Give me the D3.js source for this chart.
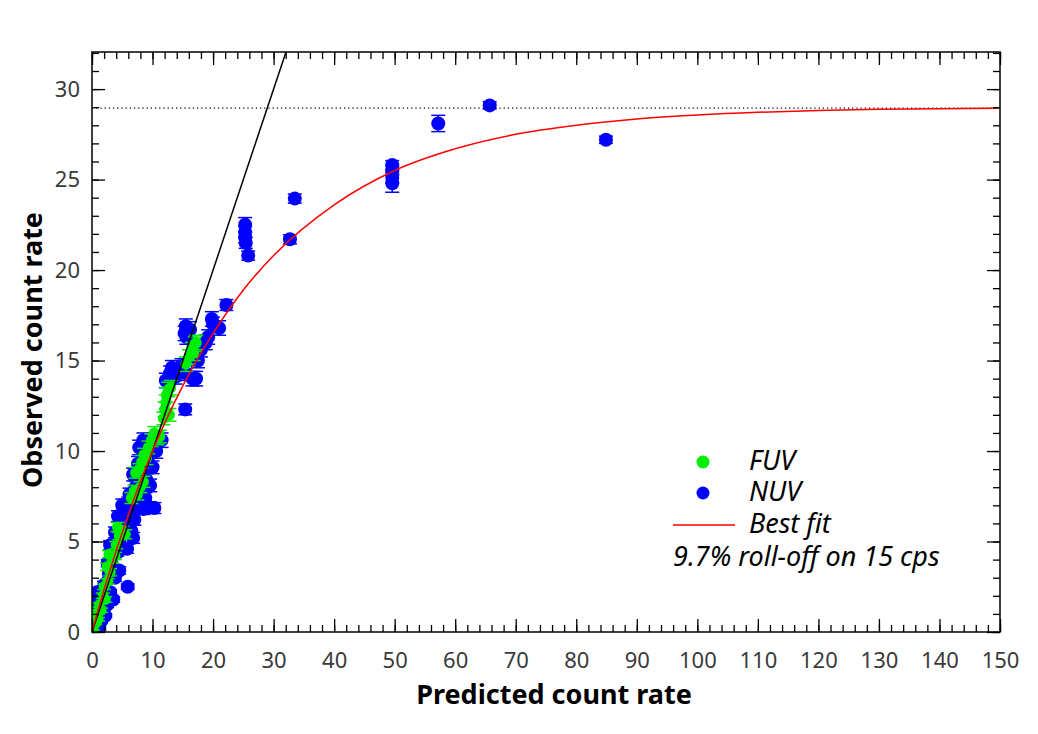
<!DOCTYPE html>
<html>
<head>
<meta charset="utf-8">
<script src="https://d3js.org/d3.v7.min.js"></script>
<style>
  body { margin: 0; background: #fff; }
  .tick text { font-family: "Noto Sans", sans-serif; font-size: 22px; fill: #3a3a3a; }
  .title { font-family: "Noto Sans", sans-serif; font-size: 27px; font-weight: bold; fill: #000; }
  .leg { font-family: "Noto Sans", sans-serif; font-size: 27px; font-style: italic; fill: #000; }
</style>
</head>
<body>
<script>
// NUV (blue) points: predicted, observed, error
var nuvX = [0.3,0.5,0.4,0.8,1.0,1.5,1.8,2.0,2.5,2.8,3.0,3.5,3.2,2.6,3.8,4.2,4.5,5.9,1.2,2.2,
            3.0,3.8,4.5,5.2,5.8,6.5,7.0,4.3,5.0,6.0,7.5,8.5,9.5,10.3,6.2,7.2,8.8,9.6,5.5,6.8,
            6.8,7.6,8.4,9.2,10.0,7.8,8.5,9.8,10.6,11.5,8.0,9.0,
            12.9,12.2,13.8,14.8,15.5,16.6,17.2,15.4,17.5,18.0,18.8,19.2,15.3,15.5,15.6,16.2,19.8,20.0,21.0,22.2,13.2,
            25.3,25.3,25.3,25.4,25.8,32.7,33.5,49.6,49.6,49.6,49.6,57.2,65.7,84.9];
var nuvY = [0.3,0.8,1.5,2.2,1.2,0.6,1.8,2.6,1.5,3.2,2.2,1.8,4.0,3.8,3.0,4.4,3.4,2.5,0.2,0.9,
            4.8,5.5,5.0,5.9,4.6,5.6,6.2,6.4,7.0,7.1,6.9,6.8,6.9,6.85,7.6,8.0,7.4,8.1,6.6,5.2,
            8.7,9.3,8.8,9.5,9.1,10.2,10.6,10.3,10.0,10.6,7.8,8.4,
            14.3,13.9,14.1,14.7,14.3,14.0,14.0,12.3,15.0,15.6,16.0,16.3,16.5,16.9,16.3,16.7,17.3,17.0,16.8,18.07,14.6,
            22.5,22.1,21.8,21.5,20.8,21.7,23.95,25.8,25.5,25.1,24.8,28.1,29.1,27.2];
var nuvErr = [0.1,0.1,0.15,0.15,0.1,0.1,0.15,0.2,0.15,0.2,0.15,0.15,0.2,0.2,0.2,0.2,0.2,0.15,0.1,0.1,
              0.25,0.3,0.25,0.3,0.25,0.3,0.3,0.3,0.35,0.35,0.3,0.3,0.3,0.3,0.35,0.35,0.3,0.35,0.3,0.3,
              0.35,0.4,0.35,0.4,0.35,0.4,0.4,0.4,0.4,0.4,0.35,0.35,
              0.4,0.4,0.4,0.4,0.4,0.4,0.4,0.3,0.4,0.4,0.4,0.4,0.4,0.4,0.4,0.45,0.4,0.4,0.4,0.3,0.4,
              0.4,0.3,0.3,0.3,0.25,0.25,0.25,0.25,0.25,0.3,0.5,0.45,0.2,0.2];

// FUV (green) points
var fuvX = [0.2,0.5,0.6,1.0,1.2,1.5,1.8,2.2,2.0,2.6,3.0,2.5,3.3,2.8,3.8,
            4.0,4.5,5.0,5.5,4.2,
            6.5,7.0,7.5,8.0,8.5,7.2,7.8,8.2,8.6,9.0,9.3,9.8,10.3,10.8,11.2,
            11.8,12.0,12.2,12.3,12.6,13.0,12.8,
            15.5,16.0,16.5,17.0,16.8,17.2];
var fuvY = [0.2,0.5,1.0,0.7,1.5,1.2,2.0,1.8,2.5,2.8,3.3,3.6,4.0,4.3,4.2,
            4.8,5.3,5.6,5.4,5.8,
            7.4,7.8,7.6,8.0,8.3,8.8,9.0,9.4,9.8,9.6,10.2,10.6,11.0,10.7,10.8,
            11.8,12.3,12.7,13.1,13.4,13.5,12.0,
            14.8,15.2,15.6,15.9,15.4,16.0];
var fuvErr = [0.1,0.1,0.1,0.1,0.12,0.12,0.15,0.15,0.15,0.15,0.2,0.2,0.2,0.2,0.2,
              0.2,0.2,0.25,0.25,0.25,
              0.3,0.3,0.3,0.3,0.3,0.3,0.3,0.35,0.35,0.35,0.35,0.35,0.35,0.35,0.35,
              0.35,0.4,0.4,0.4,0.4,0.4,0.35,
              0.4,0.4,0.4,0.4,0.4,0.4];

// best fit curve
var fitX = [0,2.5,5,10,15,20,25,30,40,50,60,70,80,90,100,110,120,130,140,150];
var fitY = [0,2.9,5.5,10.0,13.6,16.5,18.9,20.8,23.6,25.5,26.7,27.5,28.0,28.35,28.57,28.72,28.82,28.88,28.92,28.95];

var saturation = 28.95;
var xTicks = [0,10,20,30,40,50,60,70,80,90,100,110,120,130,140,150];
var yTicks = [0,5,10,15,20,25,30];

var W = 1038, H = 734;
var mLeft = 92, mRight = 1000, mTop = 52, mBottom = 632;

var svg = d3.select("body").append("svg").attr("width", W).attr("height", H);

var x = d3.scaleLinear().domain([0,150]).range([mLeft, mRight]);
var y = d3.scaleLinear().domain([0,32.05]).range([mBottom, mTop]);

svg.append("clipPath").attr("id","clip").append("rect")
  .attr("x", mLeft).attr("y", mTop).attr("width", mRight-mLeft).attr("height", mBottom-mTop);
var plot = svg.append("g").attr("clip-path","url(#clip)");

function drawDots(xs, ys, color, r) {
  var g = plot.append("g");
  xs.forEach(function(v, i) {
    g.append("circle").attr("cx",x(v)).attr("cy",y(ys[i])).attr("r",r).attr("fill",color);
  });
}
function drawErrors(xs, ys, es, color) {
  var g = plot.append("g").attr("stroke",color).attr("stroke-width",1.5);
  xs.forEach(function(v, i) {
    var cx = x(v), y1 = y(ys[i] + es[i]), y2 = y(ys[i] - es[i]);
    g.append("line").attr("x1",cx).attr("x2",cx).attr("y1",y1).attr("y2",y2);
    g.append("line").attr("x1",cx-7).attr("x2",cx+7).attr("y1",y1).attr("y2",y1);
    g.append("line").attr("x1",cx-7).attr("x2",cx+7).attr("y1",y2).attr("y2",y2);
  });
}
drawDots(nuvX, nuvY, "#0000ff", 7);
drawErrors(nuvX, nuvY, nuvErr, "#0000ff");
drawDots(fuvX, fuvY, "#00ee00", 5.5);
drawErrors(fuvX, fuvY, fuvErr, "#00ee00");

// saturation level
plot.append("line").attr("x1", x(0)).attr("x2", x(150))
  .attr("y1", y(saturation)).attr("y2", y(saturation))
  .attr("stroke","#000").attr("stroke-width",1.2).attr("stroke-dasharray","1.2,3");

// one-to-one line
plot.append("line").attr("x1", x(0)).attr("y1", y(0)).attr("x2", x(32.05)).attr("y2", y(32.05))
  .attr("stroke","#000").attr("stroke-width",1.5);

// best fit
plot.append("path")
  .datum(fitX.map(function(v,i){ return [v, fitY[i]]; }))
  .attr("d", d3.line().x(function(d){return x(d[0]);}).y(function(d){return y(d[1]);}).curve(d3.curveMonotoneX))
  .attr("fill","none").attr("stroke","#ff0000").attr("stroke-width",1.5);

// axes, ticks pointing inwards on all four sides
var minorX = d3.range(0, 151, 2), minorY = d3.range(0, 33, 1);
function axis(gen, tr, vals, size, labels) {
  var a = gen.tickValues(vals).tickSizeInner(size).tickSizeOuter(0);
  if (!labels) a.tickFormat("");
  var g = svg.append("g").attr("transform", tr).call(a);
  g.select(".domain").remove();
  g.selectAll(".tick line").attr("stroke","#000").attr("stroke-width",1.3);
  return g;
}
axis(d3.axisBottom(x).tickPadding(20), "translate(0,"+mBottom+")", xTicks, -13, true);
axis(d3.axisBottom(x), "translate(0,"+mBottom+")", minorX, -7, false);
axis(d3.axisTop(x), "translate(0,"+mTop+")", xTicks, -13, false);
axis(d3.axisTop(x), "translate(0,"+mTop+")", minorX, -7, false);
axis(d3.axisLeft(y).tickPadding(12), "translate("+mLeft+",0)", yTicks, -13, true);
axis(d3.axisLeft(y), "translate("+mLeft+",0)", minorY, -7, false);
axis(d3.axisRight(y), "translate("+mRight+",0)", yTicks, -13, false);
axis(d3.axisRight(y), "translate("+mRight+",0)", minorY, -7, false);

svg.append("rect").attr("x",mLeft).attr("y",mTop).attr("width",mRight-mLeft).attr("height",mBottom-mTop)
  .attr("fill","none").attr("stroke","#000").attr("stroke-width",1.5);

svg.append("text").attr("class","title").attr("x",554).attr("y",704)
  .attr("text-anchor","middle").text("Predicted count rate");
svg.append("text").attr("class","title").attr("transform","translate(42,350) rotate(-90)")
  .attr("text-anchor","middle").text("Observed count rate");

// legend
var leg = svg.append("g");
leg.append("circle").attr("cx",703).attr("cy",462).attr("r",6.5).attr("fill","#00ee00");
leg.append("text").attr("class","leg").attr("x",749).attr("y",470).text("FUV");
leg.append("circle").attr("cx",703).attr("cy",493).attr("r",6.5).attr("fill","#0000ff");
leg.append("text").attr("class","leg").attr("x",749).attr("y",501).text("NUV");
leg.append("line").attr("x1",673).attr("x2",735).attr("y1",525).attr("y2",525)
  .attr("stroke","#ff0000").attr("stroke-width",1.5);
leg.append("text").attr("class","leg").attr("x",749).attr("y",533).text("Best fit");
leg.append("text").attr("class","leg").attr("x",673).attr("y",566).text("9.7% roll-off on 15 cps");
</script>
</body>
</html>
